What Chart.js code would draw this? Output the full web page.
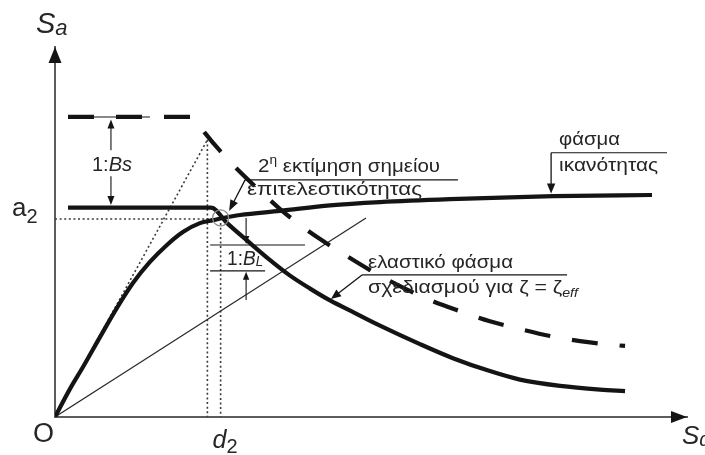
<!DOCTYPE html>
<html>
<head>
<meta charset="utf-8">
<script src="https://cdn.jsdelivr.net/npm/chart.js@4"></script>
<style>
  html, body { margin: 0; padding: 0; background: #fff; }
  canvas { display: block; }
</style>
</head>
<body>
<canvas id="c" width="705" height="455"></canvas>
<script>
// ADRS plane: spectral displacement Sd (cm) against spectral acceleration Sa (g)

// capacity spectrum (pushover curve in ADRS format)
const capacitySd = [0, 0.60, 1.12, 1.80, 2.48, 3.12, 3.80, 4.48, 5.12, 5.80, 6.33, 6.73, 7.41, 9.01, 11.01, 13.01, 15.81, 19.94, 23.90];
const capacitySa = [0, 0.076, 0.135, 0.216, 0.295, 0.362, 0.419, 0.465, 0.500, 0.524, 0.532, 0.538, 0.546, 0.557, 0.572, 0.581, 0.589, 0.597, 0.600];

// elastic design spectrum, 5% damping (dashed)
const elasticSd = [0.52, 5.52, 6.00, 6.61, 7.41, 8.21, 9.01, 9.81, 10.61, 11.61, 12.61, 13.81, 15.01, 16.21, 17.41, 18.61, 19.82, 21.02, 22.02, 22.82];
const elasticSa = [0.811, 0.811, 0.768, 0.719, 0.662, 0.611, 0.562, 0.519, 0.481, 0.438, 0.397, 0.354, 0.316, 0.286, 0.259, 0.238, 0.219, 0.205, 0.197, 0.192];

// reduced spectrum for effective damping
const reducedSd = [0.52, 6.25, 6.89, 7.81, 8.61, 9.41, 10.21, 11.01, 12.01, 13.01, 14.61, 15.93, 17.41, 18.61, 20.22, 21.82, 22.82];
const reducedSa = [0.566, 0.566, 0.524, 0.470, 0.424, 0.382, 0.347, 0.315, 0.281, 0.247, 0.197, 0.159, 0.124, 0.101, 0.084, 0.074, 0.070];

// performance point (2nd estimate)
const d2 = 6.63;
const a2 = 0.535;
const perfSa = 0.538;

// initial-stiffness line up to the elastic spectrum
const initialSd = [0, 6.10];
const initialSa = [0, 0.749];

// secant line from the origin
const secantSd = [0, 12.45];
const secantSa = [0, 0.538];

// axis ranges
const SD_MAX = 25.3;
const SA_MAX = 1.0;

const FONT = '"Liberation Sans", Arial, sans-serif';
const INK = '#141414';
const TEXT = '#262626';
const DOT = '#3c3c3c';

const pts = (xs, ys) => xs.map((x, i) => ({ x, y: ys[i] }));

function font(p) {
  return (p.italic ? 'italic ' : '') + p.size + 'px ' + FONT;
}

// draws a run of differently styled pieces, optionally squeezed to a width
function richText(ctx, x, y, parts, width, align) {
  let w = 0;
  parts.forEach(p => { ctx.font = font(p); p.w = ctx.measureText(p.t).width; w += p.w; });
  const k = width ? width / w : 1;
  const total = w * k;
  let sx = x;
  if (align === 'center') sx = x - total / 2;
  ctx.save();
  ctx.translate(sx, y);
  ctx.scale(k, 1);
  ctx.textBaseline = 'alphabetic';
  ctx.textAlign = 'left';
  let cx = 0;
  parts.forEach(p => {
    ctx.font = font(p);
    ctx.fillText(p.t, cx, p.dy || 0);
    cx += p.w;
  });
  ctx.restore();
}

function arrowHead(ctx, tx, ty, fx, fy, len, half) {
  const a = Math.atan2(ty - fy, tx - fx);
  const c = Math.cos(a), s = Math.sin(a);
  ctx.beginPath();
  ctx.moveTo(tx, ty);
  ctx.lineTo(tx - len * c + half * s, ty - len * s - half * c);
  ctx.lineTo(tx - len * c - half * s, ty - len * s + half * c);
  ctx.closePath();
  ctx.fill();
}

function arrow(ctx, fx, fy, tx, ty, len, half, lw) {
  const a = Math.atan2(ty - fy, tx - fx);
  ctx.lineWidth = lw;
  ctx.beginPath();
  ctx.moveTo(fx, fy);
  ctx.lineTo(tx - Math.cos(a) * len * 0.6, ty - Math.sin(a) * len * 0.6);
  ctx.stroke();
  arrowHead(ctx, tx, ty, fx, fy, len, half);
}

function seg(ctx, x1, y1, x2, y2, lw) {
  ctx.lineWidth = lw;
  ctx.beginPath();
  ctx.moveTo(x1, y1);
  ctx.lineTo(x2, y2);
  ctx.stroke();
}

const diagram = {
  id: 'diagram',
  afterDatasetsDraw(chart) {
    const ctx = chart.ctx;
    const sx = chart.scales.x, sy = chart.scales.y;
    const X = v => sx.getPixelForValue(v);
    const Y = v => sy.getPixelForValue(v);
    const ox = X(0), oy = Y(0);

    ctx.save();
    ctx.strokeStyle = INK;
    ctx.fillStyle = INK;
    ctx.lineCap = 'butt';

    // axis arrowheads
    arrowHead(ctx, X(SD_MAX), oy, ox, oy, 16, 6);
    arrowHead(ctx, ox, Y(SA_MAX), ox, oy, 16, 6.5);

    // 1:Bs between elastic and reduced plateaus
    const bx = X(2.24);
    const yTop = Y(elasticSa[0]), yBot = Y(reducedSa[0]);
    const yMid = (yTop + yBot) / 2;
    seg(ctx, X(1.52), yTop, X(3.80), yTop, 1.1);
    arrow(ctx, bx, yMid - 12, bx, yTop + 2.5, 9, 3.5, 1.1);
    arrow(ctx, bx, yMid + 14, bx, yBot - 2.5, 9, 3.5, 1.1);
    ctx.fillStyle = TEXT;
    richText(ctx, bx + 1, yMid + 9, [
      { t: '1:', size: 21 },
      { t: 'Bs', size: 21, italic: true }
    ], 40, 'center');
    ctx.fillStyle = INK;

    // 1:BL between the two ordinates after the corner
    const lx = X(7.65);
    const yU = Y(0.465), yL = Y(0.395);
    seg(ctx, X(6.21), yU, X(10.01), yU, 1.1);
    seg(ctx, X(6.21), yL, X(8.41), yL, 1.1);
    arrow(ctx, lx, Y(0.538), lx, yU - 1, 8, 3.2, 1.1);
    arrow(ctx, lx, Y(0.316), lx, yL + 1, 8, 3.2, 1.1);
    ctx.fillStyle = TEXT;
    richText(ctx, X(7.61), (yU + yL) / 2 + 7.5, [
      { t: '1:', size: 20 },
      { t: 'B', size: 20, italic: true },
      { t: 'L', size: 14, italic: true, dy: 1 }
    ], 36, 'center');
    ctx.fillStyle = INK;

    // performance point marker
    ctx.strokeStyle = '#8c8c8c';
    ctx.lineWidth = 1.3;
    ctx.beginPath();
    ctx.arc(X(d2), Y(perfSa), 8, 0, Math.PI * 2);
    ctx.stroke();
    ctx.strokeStyle = INK;

    // note: 2nd estimate of the performance point
    seg(ctx, X(7.61), Y(0.641), X(16.13), Y(0.641), 1.1);
    arrow(ctx, X(7.61), Y(0.641), X(6.97), Y(0.557), 11, 4.2, 1.3);
    ctx.fillStyle = TEXT;
    richText(ctx, X(8.13), Y(0.662), [
      { t: '2', size: 18 },
      { t: 'η', size: 12, dy: -8 },
      { t: ' εκτίμηση σημείου', size: 18 }
    ], 182);
    richText(ctx, X(7.69), Y(0.600), [{ t: 'επιτελεστικότητας', size: 18 }], 175);
    ctx.fillStyle = INK;

    // note: capacity spectrum
    seg(ctx, X(19.86), Y(0.714), X(24.50), Y(0.714), 1.1);
    arrow(ctx, X(19.86), Y(0.714), X(19.86), Y(0.604), 10, 4.2, 1.3);
    ctx.fillStyle = TEXT;
    richText(ctx, X(20.18), Y(0.735), [{ t: 'φάσμα', size: 18 }], 61);
    richText(ctx, X(20.18), Y(0.665), [{ t: 'ικανότητας', size: 18 }], 99);
    ctx.fillStyle = INK;

    // note: design spectrum for effective damping
    seg(ctx, X(12.29), Y(0.384), X(20.50), Y(0.384), 1.1);
    arrow(ctx, X(12.29), Y(0.384), X(11.05), Y(0.319), 10, 4.2, 1.3);
    ctx.fillStyle = TEXT;
    richText(ctx, X(12.53), Y(0.403), [{ t: 'ελαστικό φάσμα', size: 18 }], 145);
    richText(ctx, X(12.53), Y(0.335), [
      { t: 'σχεδιασμού για ζ = ζ', size: 18 },
      { t: 'eff', size: 12, italic: true, dy: 4 }
    ], 210);

    // axis labels
    richText(ctx, ox - 19, Y(SA_MAX) - 14, [
      { t: 'S', size: 29, italic: true },
      { t: 'a', size: 22, italic: true, dy: 2 }
    ]);
    richText(ctx, X(SD_MAX) - 5, oy + 27, [
      { t: 'S', size: 26, italic: true },
      { t: 'd', size: 20, italic: true, dy: 2 }
    ]);
    richText(ctx, ox - 22, oy + 25, [{ t: 'O', size: 27 }]);
    richText(ctx, ox - 43, Y(a2) - 3, [
      { t: 'a', size: 26 },
      { t: '2', size: 20, dy: 7 }
    ]);
    richText(ctx, X(d2) - 8, oy + 31, [
      { t: 'd', size: 25, italic: true },
      { t: '2', size: 20, dy: 5 }
    ]);
    ctx.restore();
  }
};

const dotted = { borderColor: DOT, borderWidth: 1.6, borderDash: [2, 2.6], tension: 0 };

new Chart(document.getElementById('c'), {
  type: 'scatter',
  data: {
    datasets: [
      { data: pts(reducedSd, reducedSa), showLine: true, borderColor: INK, borderWidth: 4.2, cubicInterpolationMode: 'monotone' },
      { data: pts(capacitySd, capacitySa), showLine: true, borderColor: INK, borderWidth: 4.2, cubicInterpolationMode: 'monotone' },
      { data: pts(elasticSd, elasticSa), showLine: true, borderColor: INK, borderWidth: 4.2, borderDash: [26, 22], cubicInterpolationMode: 'monotone' },
      { data: pts(secantSd, secantSa), showLine: true, borderColor: '#2a2a2a', borderWidth: 1.2, tension: 0 },
      Object.assign({ data: pts(initialSd, initialSa), showLine: true }, dotted),
      Object.assign({ data: pts([initialSd[1], initialSd[1]], [initialSa[1], 0]), showLine: true }, dotted),
      Object.assign({ data: pts([d2, d2], [0.524, 0]), showLine: true }, dotted),
      Object.assign({ data: pts([0, 6.35], [a2, a2]), showLine: true }, dotted)
    ]
  },
  options: {
    responsive: false,
    animation: false,
    devicePixelRatio: 1,
    layout: { padding: { left: 55, right: 18, top: 47, bottom: 38 } },
    elements: { point: { radius: 0, hoverRadius: 0 }, line: { borderCapStyle: 'butt' } },
    plugins: { legend: { display: false }, tooltip: { enabled: false } },
    scales: {
      x: {
        type: 'linear', min: 0, max: SD_MAX,
        grid: { display: false, drawTicks: false },
        ticks: { display: false },
        border: { display: true, color: '#5c5c5c', width: 2 }
      },
      y: {
        type: 'linear', min: 0, max: SA_MAX,
        grid: { display: false, drawTicks: false },
        ticks: { display: false },
        border: { display: true, color: '#5c5c5c', width: 2 }
      }
    }
  },
  plugins: [diagram]
});
</script>
</body>
</html>
